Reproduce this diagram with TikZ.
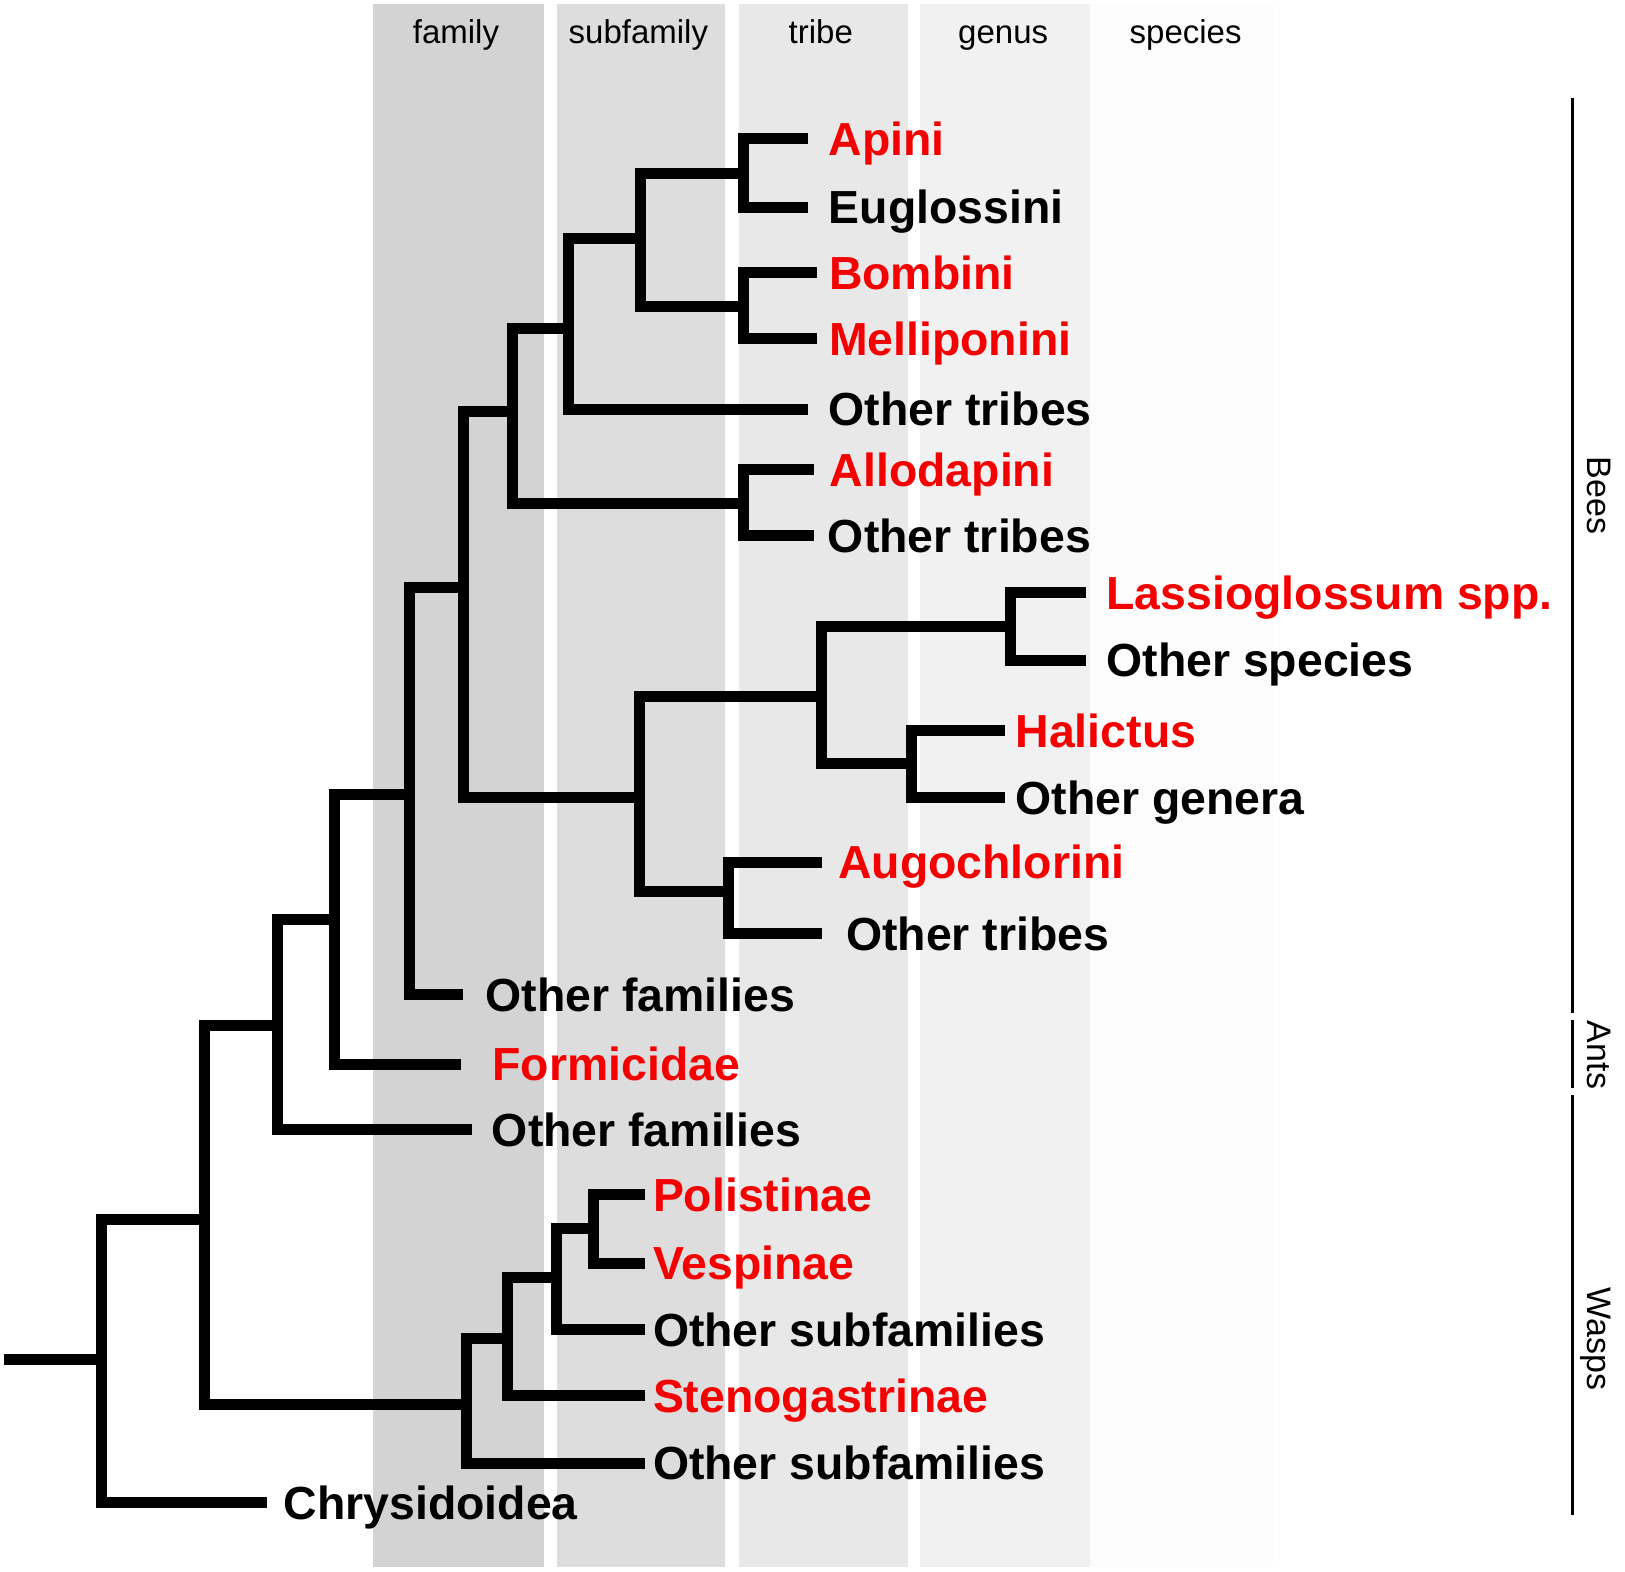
\documentclass[tikz,border=0pt]{standalone}
\usepackage{fontspec}
\setmainfont{Liberation Sans}
\usepackage{tikz}

\definecolor{famgray}{HTML}{D3D3D3}
\definecolor{subgray}{HTML}{DDDDDD}
\definecolor{trigray}{HTML}{E8E8E8}
\definecolor{gengray}{HTML}{F1F1F1}
\definecolor{spegray}{HTML}{FCFCFC}
\definecolor{hitred}{RGB}{245,0,0}

\tikzset{
    branch/.style={line width=5.5pt, line join=miter},
    leaf/.style={anchor=west, inner xsep=10pt, inner ysep=0pt,
        text height=16.6pt, text depth=0pt,
        font=\bfseries\fontsize{23.2}{25}\selectfont},
    hit/.style={leaf, text=hitred},
    rank/.style={anchor=base, font=\fontsize{16.5}{18}\selectfont},
    group/.style={rotate=-90, inner sep=0pt, text height=12.2pt, text depth=0pt,
        font=\fontsize{17}{18}\selectfont}
}

\begin{document}
\begin{tikzpicture}[x=0.5182pt, y=-0.5182pt]

    \useasboundingbox (0,0) rectangle (1568,1516);

    % rank bands
    \fill [famgray] (360,4) rectangle (525,1512);
    \fill [subgray] (537,4) rectangle (700,1512);
    \fill [trigray] (713,4) rectangle (876,1512);
    \fill [gengray] (888,4) rectangle (1052,1512);
    \fill [spegray] (1052,4) rectangle (1228,1512);

    \node [rank] (family) at (440,42) {family};
    \node [rank] (subfamily) at (616,42) {subfamily};
    \node [rank] (tribe) at (792,42) {tribe};
    \node [rank] (genus) at (968,42) {genus};
    \node [rank] (species) at (1144,42) {species};

    % leaves
    \node [hit] (apini) at (780,134) {Apini};
    \node [leaf] (eugl) at (780,200) {Euglossini};
    \node [hit, inner xsep=6pt] (bombini) at (788,263) {Bombini};
    \node [hit, inner xsep=6pt] (mellip) at (788,327) {Melliponini};
    \node [leaf] (othtriA) at (780,395) {Other tribes};
    \node [hit, inner xsep=8pt] (allodap) at (785,453) {Allodapini};
    \node [leaf, inner xsep=7pt] (othtriB) at (785,517) {Other tribes};
    \node [hit] (lassio) at (1048,572) {Lassioglossum spp.};
    \node [leaf] (othspe) at (1048,637) {Other species};
    \node [hit, inner xsep=5pt] (halictus) at (970,705) {Halictus};
    \node [leaf, inner xsep=5pt] (othgen) at (970,770) {Other genera};
    \node [hit, inner xsep=8pt] (augoch) at (793,832) {Augochlorini};
    \node [leaf, inner xsep=12pt] (othtriC) at (793,901) {Other tribes};
    \node [leaf, inner xsep=11pt] (othfamA) at (447,960) {Other families};
    \node [hit, inner xsep=15.5pt] (formic) at (445,1027) {Formicidae};
    \node [leaf] (othfamB) at (455,1090) {Other families};
    \node [hit, inner xsep=4pt] (polist) at (622,1153) {Polistinae};
    \node [hit, inner xsep=4pt] (vespin) at (622,1219) {Vespinae};
    \node [leaf, inner xsep=4pt] (othsubA) at (622,1283) {Other subfamilies};
    \node [hit, inner xsep=4pt] (steno) at (622,1347) {Stenogastrinae};
    \node [leaf, inner xsep=4pt] (othsubB) at (622,1412) {Other subfamilies};
    \node [leaf, inner xsep=8pt] (chrys) at (258,1450) {Chrysidoidea};

    % inner nodes
    \coordinate (start) at (4,1312);
    \coordinate (root) at (98,1312);
    \coordinate (aculeata) at (197,1177);
    \coordinate (c) at (268,990);
    \coordinate (d) at (323,887);
    \coordinate (e) at (395,767);
    \coordinate (f) at (447,567);
    \coordinate (g) at (495,397);
    \coordinate (h) at (549,317);
    \coordinate (i) at (618,230);
    \coordinate (apin) at (717,167);
    \coordinate (bomb) at (717,296);
    \coordinate (allo) at (717,486);
    \coordinate (hal) at (617,770);
    \coordinate (halin) at (793,672);
    \coordinate (lass) at (975,605);
    \coordinate (hali) at (880,737);
    \coordinate (augo) at (703,860);
    \coordinate (vesp) at (450,1355);
    \coordinate (w) at (490,1292);
    \coordinate (x) at (537,1233);
    \coordinate (y) at (573,1185);

    % branches
    \draw [branch] (start) -- (root);
    \draw [branch] (aculeata) -| (root) |- (chrys.west);
    \draw [branch] (c) -| (aculeata) |- (vesp);
    \draw [branch] (d) -| (c) |- (othfamB.west);
    \draw [branch] (e) -| (d) |- (formic.west);
    \draw [branch] (f) -| (e) |- (othfamA.west);
    \draw [branch] (g) -| (f) |- (hal);
    \draw [branch] (h) -| (g) |- (allo);
    \draw [branch] (i) -| (h) |- (othtriA.west);
    \draw [branch] (apin) -| (i) |- (bomb);
    \draw [branch] (apini.west) -| (apin) |- (eugl.west);
    \draw [branch] (bombini.west) -| (bomb) |- (mellip.west);
    \draw [branch] (allodap.west) -| (allo) |- (othtriB.west);
    \draw [branch] (halin) -| (hal) |- (augo);
    \draw [branch] (lass) -| (halin) |- (hali);
    \draw [branch] (lassio.west) -| (lass) |- (othspe.west);
    \draw [branch] (halictus.west) -| (hali) |- (othgen.west);
    \draw [branch] (augoch.west) -| (augo) |- (othtriC.west);
    \draw [branch] (w) -| (vesp) |- (othsubB.west);
    \draw [branch] (x) -| (w) |- (steno.west);
    \draw [branch] (y) -| (x) |- (othsubA.west);
    \draw [branch] (polist.west) -| (y) |- (vespin.west);

    % groups
    \draw [line width=1.5pt] (1517,95) -- (1517,977);
    \draw [line width=1.5pt] (1517,984) -- (1517,1050);
    \draw [line width=1.5pt] (1517,1057) -- (1517,1462);
    \node [group] (bees) at (1544,478) {Bees};
    \node [group] (ants) at (1544,1018) {Ants};
    \node [group] (wasps) at (1544,1292) {Wasps};

\end{tikzpicture}
\end{document}
